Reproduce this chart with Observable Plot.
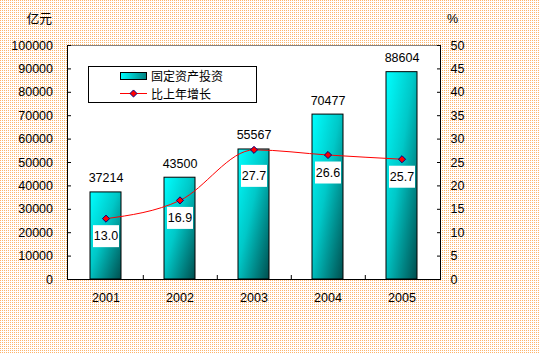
<!DOCTYPE html>
<html><head><meta charset="utf-8">
<script src="https://cdn.jsdelivr.net/npm/d3@7"></script>
<script src="https://cdn.jsdelivr.net/npm/@observablehq/plot@0.6"></script>
<style>
body{margin:0;}
#wrap{position:relative;width:539px;height:354px;overflow:hidden;background-color:#fff;
background-image:url("data:image/svg+xml,%3Csvg xmlns='http://www.w3.org/2000/svg' width='2' height='2' shape-rendering='crispEdges'%3E%3Crect width='1' height='1' fill='%23fdb46c'/%3E%3C/svg%3E");
background-size:2px 2px;}
#wrap svg{position:absolute;left:0;top:0;}
</style>
</head><body>
<div id="wrap"></div>
<script>
const years = ["2001", "2002", "2003", "2004", "2005"];
const investment = [37214, 43500, 55567, 70477, 88604];
const growth = [13.0, 16.9, 27.7, 26.6, 25.7];
const leftTicks = [0, 10000, 20000, 30000, 40000, 50000, 60000, 70000, 80000, 90000, 100000];
const rightTicks = [0, 5, 10, 15, 20, 25, 30, 35, 40, 45, 50];
const seriesNames = ["固定资产投资", "比上年增长"];
const unitLeft = "亿元", unitRight = "%";

const K = 100000 / 50; // maps % onto the left scale
const data = years.map((year, i) => ({year, inv: investment[i], pct: growth[i]}));

const boxSymbol = {draw(ctx) { ctx.rect(-13, -11, 26, 22); }};
const latin = "'Liberation Sans', Arial, sans-serif";
const cjk = "'Noto Sans CJK SC', sans-serif";

const chart = Plot.plot({
  width: 539, height: 354,
  marginLeft: 67, marginRight: 99, marginTop: 45, marginBottom: 75,
  x: {domain: years, paddingInner: 0.58, paddingOuter: 0.29, label: null},
  y: {domain: [0, 100000], label: null},
  style: {fontFamily: latin, fontSize: "12.5px", background: "transparent", color: "black", overflow: "visible"},
  marks: [
    Plot.frame({fill: "white", stroke: "black"}),
    Plot.ruleY([100000], {stroke: "#808080"}),
    Plot.barY(data, {x: "year", y: "inv", fill: "url(#barGrad)", stroke: "black", strokeWidth: 1}),
    Plot.text(data, {x: "year", y: "inv", text: d => String(d.inv), dy: -14, lineAnchor: "middle", fill: "black"}),
    Plot.line(data, {x: "year", y: d => d.pct * K, stroke: "#ff0000", strokeWidth: 1, curve: "monotone-x"}),
    Plot.dot(data, {x: "year", y: d => d.pct * K, symbol: "diamond2", r: 3.2, fill: "#ff0000", stroke: "#000080", strokeWidth: 1}),
    Plot.dot(data, {filter: d => d.year !== "2003", x: "year", y: d => d.pct * K, symbol: boxSymbol, r: 1, fill: "white", stroke: "none", dy: 17.5}),
    Plot.text(data, {filter: d => d.year !== "2003", x: "year", y: d => d.pct * K, text: d => d.pct.toFixed(1), dy: 17.5, lineAnchor: "middle", fill: "black"}),
    Plot.dot(data, {filter: d => d.year === "2003", x: "year", y: d => d.pct * K, symbol: boxSymbol, r: 1, fill: "white", stroke: "none", dy: 26}),
    Plot.text(data, {filter: d => d.year === "2003", x: "year", y: d => d.pct * K, text: d => d.pct.toFixed(1), dy: 26, lineAnchor: "middle", fill: "black"}),
    Plot.tickX(years.slice(0, 4), {x: d => d, dx: 37.3, insetTop: 230, stroke: "black"}),
    Plot.axisX({tickSize: 0, tickPadding: 14, fill: "black"}),
    Plot.axisY({anchor: "left", ticks: leftTicks, tickFormat: d => String(d), tickSize: -4, tickPadding: 18.5, fill: "black"}),
    Plot.axisY({anchor: "right", ticks: rightTicks.map(v => v * K), tickFormat: d => String(d / K), tickSize: -4, tickPadding: 14, fill: "black"})
  ]
});

const ns = "http://www.w3.org/2000/svg";
const defs = document.createElementNS(ns, "defs");
defs.innerHTML = `
<linearGradient id="barGrad" x1="0" y1="0" x2="1" y2="1">
  <stop offset="0" stop-color="#00ffff"/><stop offset="0.45" stop-color="#00c8c8"/><stop offset="1" stop-color="#004e4e"/>
</linearGradient>`;
chart.insertBefore(defs, chart.firstChild);
document.getElementById("wrap").appendChild(chart);

// overlay: units and legend
const ov = d3.select("#wrap").append("svg").attr("width", 539).attr("height", 354);
ov.append("defs").html(`<linearGradient id="legGrad" x1="0" y1="0" x2="1" y2="0">
  <stop offset="0" stop-color="#00ffff"/><stop offset="1" stop-color="#008080"/></linearGradient>`);
ov.append("text").attr("x", 52).attr("y", 17).attr("text-anchor", "end").attr("dominant-baseline", "central")
  .style("font-family", cjk).style("font-size", "12.8px").text(unitLeft);
ov.append("text").attr("x", 447).attr("y", 19).attr("dominant-baseline", "central")
  .style("font-family", latin).style("font-size", "12.5px").text(unitRight);
const lg = ov.append("g");
lg.append("rect").attr("x", 88.5).attr("y", 66.5).attr("width", 168).attr("height", 36).attr("fill", "white").attr("stroke", "black");
lg.append("rect").attr("x", 120.5).attr("y", 72.5).attr("width", 26).attr("height", 7).attr("fill", "url(#legGrad)").attr("stroke", "black");
lg.append("line").attr("x1", 120).attr("x2", 147).attr("y1", 93.5).attr("y2", 93.5).attr("stroke", "#ff0000");
lg.append("path").attr("d", d3.symbol(d3.symbolDiamond2, 32)()).attr("transform", "translate(133.5,93.5)")
  .attr("fill", "#ff0000").attr("stroke", "#000080");
seriesNames.forEach((n, i) => {
  lg.append("text").attr("x", 151).attr("y", i ? 93.5 : 75).attr("dominant-baseline", "central")
    .style("font-family", cjk).style("font-size", "12px").text(n);
});
</script>
</body></html>
